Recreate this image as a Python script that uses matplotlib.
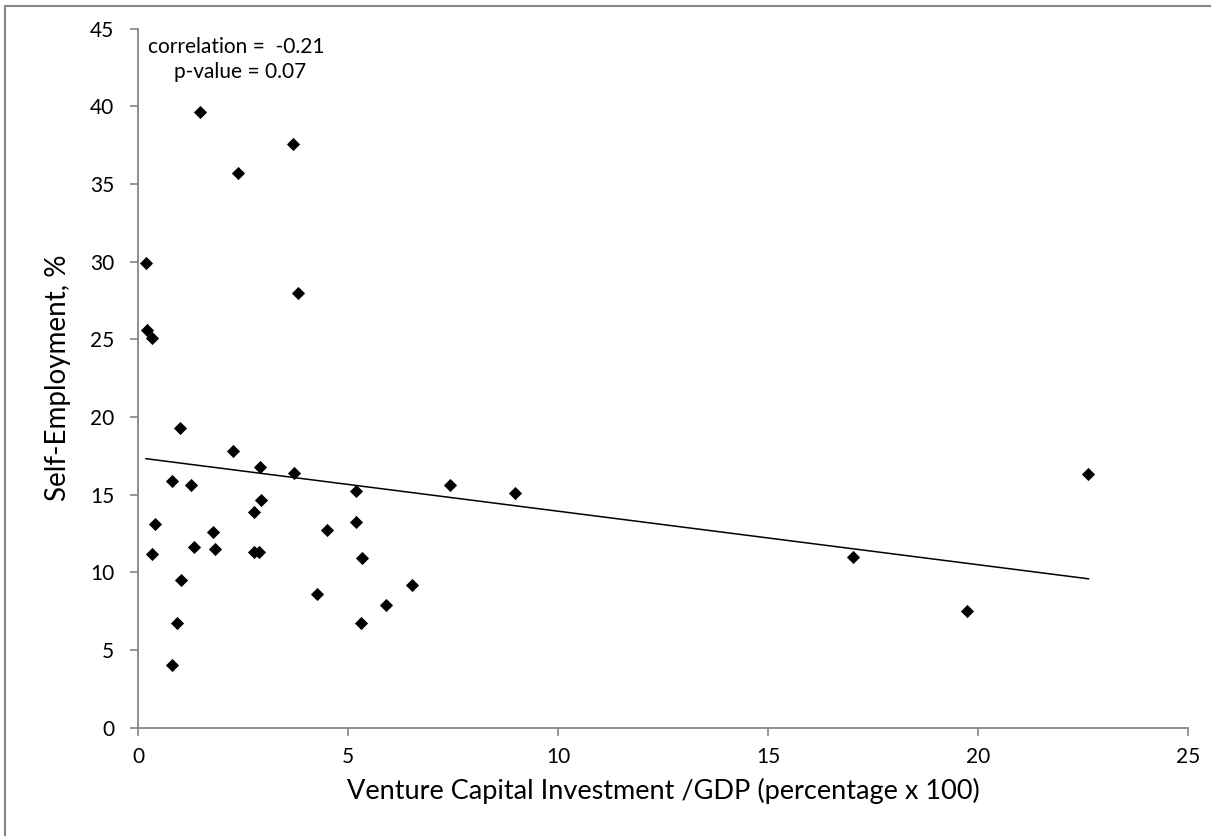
import matplotlib
matplotlib.use("Agg")
import matplotlib.pyplot as plt
from matplotlib.patches import Rectangle
import numpy as np

# ── data ─────────────────────────────────────────────────────────────────────
vc_gdp = [1.47, 3.68, 2.37, 0.19, 3.80, 0.21, 0.33, 1.00, 2.27, 2.90,
          3.71, 0.80, 1.25, 7.43, 5.19, 8.98, 2.94, 2.77, 0.40, 5.19,
          1.78, 4.51, 1.33, 1.83, 0.33, 2.75, 2.87, 5.34, 1.02, 6.52,
          4.26, 5.90, 0.93, 5.30, 0.80, 17.03, 19.74, 22.63]
self_emp = [39.6, 37.6, 35.7, 29.9, 28.0, 25.6, 25.1, 19.3, 17.8, 16.75,
            16.4, 15.9, 15.6, 15.6, 15.2, 15.1, 14.65, 13.9, 13.1, 13.2,
            12.6, 12.7, 11.6, 11.5, 11.2, 11.3, 11.3, 10.9, 9.5, 9.2,
            8.6, 7.9, 6.7, 6.7, 4.0, 10.95, 7.5, 16.3]

x_ticks = [0, 5, 10, 15, 20, 25]
y_ticks = [0, 5, 10, 15, 20, 25, 30, 35, 40, 45]

GRAY = "#868686"
plt.rcParams["font.family"] = ["Lato", "DejaVu Sans"]

fig = plt.figure(figsize=(12.11, 8.36), dpi=100)
fig.patch.set_facecolor("white")

# chart-area border (clipped at right/bottom like the source)
fig.patches.append(Rectangle((5 / 1211, -0.05), 1.1, 1 - 6 / 836 + 0.05,
                             transform=fig.transFigure, fill=False,
                             edgecolor=GRAY, linewidth=1.5))

ax = fig.add_axes([138 / 1211, 1 - 727.5 / 836, 1050 / 1211, (727.5 - 28.6) / 836])

ax.scatter(vc_gdp, self_emp, marker="D", s=45, color="black", zorder=3,
           linewidths=0)

# linear trend line over the data range
xs = np.array(vc_gdp)
slope, icept = np.polyfit(xs, np.array(self_emp), 1)
xl = np.array([xs.min(), xs.max()])
ax.plot(xl, icept + slope * xl, color="black", lw=1.1, zorder=2)

ax.set_xlim(0, 25)
ax.set_ylim(0, 45)
ax.set_xticks(x_ticks)
ax.set_yticks(y_ticks)
for s in ("top", "right"):
    ax.spines[s].set_visible(False)
for s in ("left", "bottom"):
    ax.spines[s].set_color(GRAY)
    ax.spines[s].set_linewidth(1.3)
ax.tick_params(direction="out", length=6, width=1.2, color=GRAY,
               labelsize=15)
ax.tick_params(axis="y", pad=11)
ax.tick_params(axis="x", pad=8)

ax.set_xlabel("Venture Capital Investment /GDP (percentage x 100)",
              fontsize=19.5, labelpad=8)
ax.set_ylabel("Self-Employment, %", fontsize=20, labelpad=14)

ax.text(0.25, 43.8, "correlation =  -0.21", fontsize=15, va="center")
ax.text(0.85, 42.2, "p-value = 0.07", fontsize=15, va="center")

fig.savefig("out.png", dpi=100, facecolor="white")
